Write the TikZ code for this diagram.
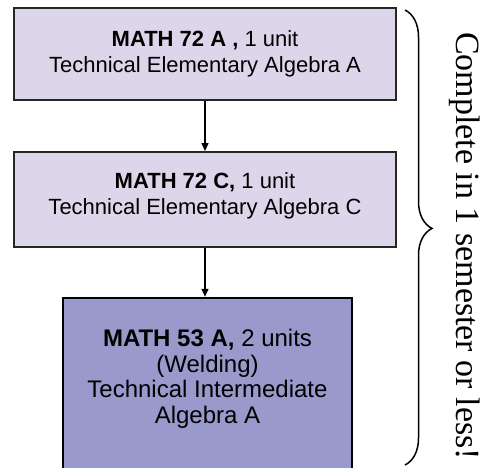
\documentclass[tikz,border=0pt]{standalone}
\usepackage{fontspec}
\setmainfont{Liberation Sans}
\newfontfamily\serifont{Liberation Serif}
\usetikzlibrary{arrows.meta,decorations.pathreplacing}
\definecolor{lavA}{RGB}{221,214,234}
\definecolor{lavB}{RGB}{153,153,204}
\begin{document}
\begin{tikzpicture}[x=1pt,y=-1pt,
  boxA/.style={draw=black!85, line width=2pt, fill=lavA, minimum width=382pt, inner sep=0pt},
  boxB/.style={draw=black, line width=2.5pt, fill=lavB, minimum width=289pt, inner sep=0pt},
  txt/.style={align=center, font=\fontsize{22}{26}\selectfont, inner sep=0pt},
  txtB/.style={align=center, font=\fontsize{24}{25.5}\selectfont, inner sep=0pt},
  conn/.style={line width=1.5pt, -{Triangle[length=8pt,width=7pt]}},
  bracestyle/.style={line width=1.5pt, decorate, decoration={brace, amplitude=27pt, aspect=0.48}}]
\useasboundingbox (0,0) rectangle (487,467);
\clip (0,0) rectangle (487,467);
\fill[white] (0,0) rectangle (487,467);
\node[boxA, minimum height=92pt] (b1) at (205,54) {};
\node[txt] (t1) at (205,54) {\textbf{MATH 72 A ,} 1 unit\\Technical Elementary Algebra A};
\node[boxA, minimum height=95pt] (b2) at (205,199.5) {};
\node[txt] (t2) at (205,196) {\textbf{MATH 72 C,} 1 unit\\Technical Elementary Algebra C};
\node[boxB, minimum height=180pt] (b3) at (207.5,388) {};
\node[txtB] (t3) at (207.5,379) {\textbf{MATH 53 A,} 2 units\\(Welding)\\Technical Intermediate\\Algebra A};
\draw[conn] (b1.south) -- (b2.north);
\draw[conn] (b2.south) -- (b2.south |- b3.north);
\coordinate (bt) at (405,10);
\coordinate (bb) at (405,465);
\draw[bracestyle] (bt) -- (bb);
\node[rotate=-90, font=\serifont\fontsize{34}{36}\selectfont, inner sep=0pt] (lbl) at (465,246) {Complete in 1 semester or less!};
\end{tikzpicture}
\end{document}
